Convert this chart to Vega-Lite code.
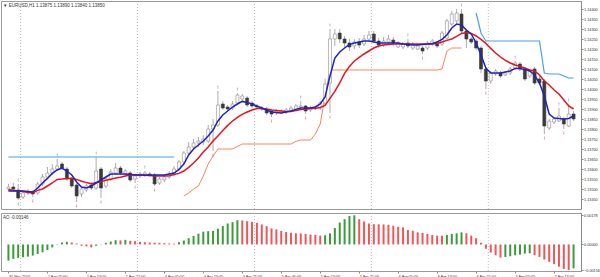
{
  "$schema": "https://vega.github.io/schema/vega-lite/v6.json",
  "padding": 0,
  "background": "white",
  "spacing": 2,
  "config": {
    "view": {"stroke": "#9a9a9a", "strokeWidth": 1},
    "font": "Liberation Sans"
  },
  "datasets": {
    "seps": [{"s": 2.5}, {"s": 26.5}, {"s": 50.5}, {"s": 74.5}, {"s": 98.5}],
    "bars": [
{"i":0,"o":1.13500,"h":1.13525,"l":1.13490,"c":1.13510,"b":1.13490,"r":1.13498,"ao":-0.00098,"d":"g","res":1.13660},
{"i":1,"o":1.13510,"h":1.13530,"l":1.13485,"c":1.13500,"b":1.13490,"r":1.13494,"ao":-0.00088,"d":"g","res":1.13660},
{"i":2,"o":1.13495,"h":1.13525,"l":1.13445,"c":1.13455,"b":1.13490,"r":1.13490,"ao":-0.00082,"d":"g","res":1.13660,"fu":1,"fd":1},
{"i":3,"o":1.13460,"h":1.13490,"l":1.13450,"c":1.13480,"b":1.13490,"r":1.13487,"ao":-0.00078,"d":"g","res":1.13660},
{"i":4,"o":1.13480,"h":1.13500,"l":1.13470,"c":1.13485,"b":1.13488,"r":1.13483,"ao":-0.00074,"d":"g","res":1.13660},
{"i":5,"o":1.13485,"h":1.13495,"l":1.13460,"c":1.13475,"b":1.13485,"r":1.13481,"ao":-0.00068,"d":"g","res":1.13660,"fd":1},
{"i":6,"o":1.13480,"h":1.13535,"l":1.13470,"c":1.13525,"b":1.13505,"r":1.13493,"ao":-0.00058,"d":"g","res":1.13660},
{"i":7,"o":1.13525,"h":1.13575,"l":1.13515,"c":1.13560,"b":1.13530,"r":1.13500,"ao":-0.00048,"d":"g","res":1.13660},
{"i":8,"o":1.13560,"h":1.13610,"l":1.13550,"c":1.13580,"b":1.13553,"r":1.13515,"ao":-0.00034,"d":"g","res":1.13660},
{"i":9,"o":1.13580,"h":1.13625,"l":1.13570,"c":1.13600,"b":1.13578,"r":1.13530,"ao":-0.00018,"d":"g","res":1.13660},
{"i":10,"o":1.13600,"h":1.13650,"l":1.13590,"c":1.13615,"b":1.13595,"r":1.13548,"ao":0.00002,"d":"g","res":1.13660,"fu":1},
{"i":11,"o":1.13625,"h":1.13635,"l":1.13595,"c":1.13605,"b":1.13605,"r":1.13550,"ao":0.00012,"d":"g","res":1.13660},
{"i":12,"o":1.13600,"h":1.13610,"l":1.13540,"c":1.13550,"b":1.13590,"r":1.13553,"ao":0.00016,"d":"g","res":1.13660},
{"i":13,"o":1.13550,"h":1.13560,"l":1.13505,"c":1.13515,"b":1.13570,"r":1.13554,"ao":0.00012,"d":"r","res":1.13660},
{"i":14,"o":1.13520,"h":1.13530,"l":1.13435,"c":1.13465,"b":1.13535,"r":1.13548,"ao":0.00006,"d":"r","res":1.13660,"fd":1},
{"i":15,"o":1.13475,"h":1.13510,"l":1.13460,"c":1.13500,"b":1.13510,"r":1.13539,"ao":-0.00008,"d":"r","res":1.13660},
{"i":16,"o":1.13495,"h":1.13525,"l":1.13485,"c":1.13515,"b":1.13505,"r":1.13532,"ao":-0.00012,"d":"r","res":1.13660},
{"i":17,"o":1.13520,"h":1.13535,"l":1.13495,"c":1.13505,"b":1.13515,"r":1.13526,"ao":-0.00018,"d":"r","res":1.13660},
{"i":18,"o":1.13505,"h":1.13660,"l":1.13495,"c":1.13590,"b":1.13530,"r":1.13532,"ao":-0.00008,"d":"g","res":1.13660,"fu":1},
{"i":19,"o":1.13600,"h":1.13610,"l":1.13455,"c":1.13505,"b":1.13545,"r":1.13537,"ao":0.00002,"d":"g","res":1.13660,"fd":1},
{"i":20,"o":1.13515,"h":1.13560,"l":1.13505,"c":1.13550,"b":1.13560,"r":1.13544,"ao":0.00010,"d":"g","res":1.13660},
{"i":21,"o":1.13550,"h":1.13600,"l":1.13540,"c":1.13585,"b":1.13575,"r":1.13549,"ao":0.00018,"d":"g","res":1.13660},
{"i":22,"o":1.13580,"h":1.13630,"l":1.13570,"c":1.13605,"b":1.13575,"r":1.13555,"ao":0.00026,"d":"g","res":1.13660},
{"i":23,"o":1.13605,"h":1.13615,"l":1.13570,"c":1.13580,"b":1.13575,"r":1.13559,"ao":0.00025,"d":"r","res":1.13660},
{"i":24,"o":1.13575,"h":1.13600,"l":1.13565,"c":1.13590,"b":1.13575,"r":1.13565,"ao":0.00028,"d":"g","res":1.13660},
{"i":25,"o":1.13580,"h":1.13590,"l":1.13535,"c":1.13545,"b":1.13573,"r":1.13570,"ao":0.00022,"d":"r","res":1.13660},
{"i":26,"o":1.13550,"h":1.13575,"l":1.13530,"c":1.13565,"b":1.13570,"r":1.13570,"ao":0.00020,"d":"r","res":1.13660,"fd":1},
{"i":27,"o":1.13565,"h":1.13585,"l":1.13555,"c":1.13575,"b":1.13570,"r":1.13570,"ao":0.00016,"d":"r","res":1.13660},
{"i":28,"o":1.13570,"h":1.13590,"l":1.13560,"c":1.13580,"b":1.13570,"r":1.13569,"ao":0.00014,"d":"r","res":1.13660,"fu":1},
{"i":29,"o":1.13575,"h":1.13585,"l":1.13560,"c":1.13570,"b":1.13570,"r":1.13567,"ao":0.00012,"d":"r","res":1.13660},
{"i":30,"o":1.13570,"h":1.13580,"l":1.13515,"c":1.13525,"b":1.13570,"r":1.13565,"ao":0.00011,"d":"r","res":1.13660,"fd":1},
{"i":31,"o":1.13530,"h":1.13560,"l":1.13520,"c":1.13550,"b":1.13570,"r":1.13565,"ao":0.00010,"d":"r","res":1.13660},
{"i":32,"o":1.13545,"h":1.13570,"l":1.13535,"c":1.13560,"b":1.13570,"r":1.13565,"ao":0.00008,"d":"r","res":1.13660},
{"i":33,"o":1.13560,"h":1.13590,"l":1.13550,"c":1.13575,"b":1.13575,"r":1.13566,"ao":0.00006,"d":"r","res":1.13660},
{"i":34,"o":1.13575,"h":1.13615,"l":1.13565,"c":1.13600,"b":1.13580,"r":1.13572,"ao":0.00005,"d":"r","res":1.13660},
{"i":35,"o":1.13600,"h":1.13645,"l":1.13590,"c":1.13635,"b":1.13598,"r":1.13578,"ao":0.00014,"d":"g"},
{"i":36,"o":1.13635,"h":1.13690,"l":1.13625,"c":1.13680,"b":1.13625,"r":1.13590,"ao":0.00024,"d":"g","sup":1.13465},
{"i":37,"o":1.13680,"h":1.13735,"l":1.13670,"c":1.13710,"b":1.13670,"r":1.13608,"ao":0.00038,"d":"g","sup":1.13480},
{"i":38,"o":1.13710,"h":1.13750,"l":1.13700,"c":1.13730,"b":1.13700,"r":1.13630,"ao":0.00052,"d":"g","sup":1.13500},
{"i":39,"o":1.13730,"h":1.13760,"l":1.13710,"c":1.13740,"b":1.13720,"r":1.13655,"ao":0.00066,"d":"g","sup":1.13515},
{"i":40,"o":1.13735,"h":1.13770,"l":1.13720,"c":1.13750,"b":1.13740,"r":1.13685,"ao":0.00078,"d":"g","sup":1.13565},
{"i":41,"o":1.13740,"h":1.13820,"l":1.13730,"c":1.13800,"b":1.13765,"r":1.13710,"ao":0.00081,"d":"g","sup":1.13625},
{"i":42,"o":1.13800,"h":1.13850,"l":1.13690,"c":1.13820,"b":1.13795,"r":1.13740,"ao":0.00082,"d":"g","sup":1.13665,"fd":1},
{"i":43,"o":1.13820,"h":1.13990,"l":1.13810,"c":1.13920,"b":1.13840,"r":1.13765,"ao":0.00096,"d":"g","sup":1.13700,"fu":1},
{"i":44,"o":1.13925,"h":1.13940,"l":1.13895,"c":1.13905,"b":1.13870,"r":1.13793,"ao":0.00112,"d":"g","sup":1.13700},
{"i":45,"o":1.13910,"h":1.13920,"l":1.13890,"c":1.13900,"b":1.13890,"r":1.13818,"ao":0.00128,"d":"g","sup":1.13700},
{"i":46,"o":1.13905,"h":1.13940,"l":1.13895,"c":1.13925,"b":1.13910,"r":1.13840,"ao":0.00136,"d":"g","sup":1.13700},
{"i":47,"o":1.13930,"h":1.13980,"l":1.13920,"c":1.13970,"b":1.13925,"r":1.13858,"ao":0.00148,"d":"g","sup":1.13713,"fu":1},
{"i":48,"o":1.13950,"h":1.13975,"l":1.13940,"c":1.13965,"b":1.13938,"r":1.13873,"ao":0.00146,"d":"r","sup":1.13725},
{"i":49,"o":1.13955,"h":1.13965,"l":1.13910,"c":1.13920,"b":1.13933,"r":1.13885,"ao":0.00142,"d":"r","sup":1.13725},
{"i":50,"o":1.13930,"h":1.13940,"l":1.13905,"c":1.13915,"b":1.13925,"r":1.13895,"ao":0.00138,"d":"r","sup":1.13725},
{"i":51,"o":1.13915,"h":1.13925,"l":1.13900,"c":1.13910,"b":1.13915,"r":1.13902,"ao":0.00132,"d":"r","sup":1.13725},
{"i":52,"o":1.13905,"h":1.13915,"l":1.13890,"c":1.13900,"b":1.13905,"r":1.13903,"ao":0.00122,"d":"r","sup":1.13725},
{"i":53,"o":1.13900,"h":1.13910,"l":1.13870,"c":1.13880,"b":1.13895,"r":1.13900,"ao":0.00112,"d":"r","sup":1.13725},
{"i":54,"o":1.13890,"h":1.13900,"l":1.13860,"c":1.13875,"b":1.13885,"r":1.13895,"ao":0.00098,"d":"r","sup":1.13725,"fd":1},
{"i":55,"o":1.13880,"h":1.13900,"l":1.13870,"c":1.13890,"b":1.13883,"r":1.13893,"ao":0.00092,"d":"r","sup":1.13725},
{"i":56,"o":1.13880,"h":1.13900,"l":1.13875,"c":1.13890,"b":1.13880,"r":1.13890,"ao":0.00082,"d":"r","sup":1.13725},
{"i":57,"o":1.13885,"h":1.13905,"l":1.13875,"c":1.13895,"b":1.13885,"r":1.13887,"ao":0.00076,"d":"r","sup":1.13725},
{"i":58,"o":1.13895,"h":1.13915,"l":1.13890,"c":1.13905,"b":1.13890,"r":1.13888,"ao":0.00072,"d":"r","sup":1.13725},
{"i":59,"o":1.13900,"h":1.13925,"l":1.13895,"c":1.13915,"b":1.13898,"r":1.13893,"ao":0.00068,"d":"r","sup":1.13738},
{"i":60,"o":1.13910,"h":1.13940,"l":1.13900,"c":1.13915,"b":1.13905,"r":1.13897,"ao":0.00067,"d":"r","sup":1.13745,"fu":1},
{"i":61,"o":1.13915,"h":1.13920,"l":1.13875,"c":1.13890,"b":1.13905,"r":1.13899,"ao":0.00064,"d":"r","sup":1.13745,"fd":1},
{"i":62,"o":1.13895,"h":1.13915,"l":1.13885,"c":1.13905,"b":1.13905,"r":1.13902,"ao":0.00060,"d":"r","sup":1.13745},
{"i":63,"o":1.13900,"h":1.13915,"l":1.13895,"c":1.13905,"b":1.13910,"r":1.13904,"ao":0.00058,"d":"r","sup":1.13775},
{"i":64,"o":1.13905,"h":1.13940,"l":1.13895,"c":1.13930,"b":1.13925,"r":1.13908,"ao":0.00054,"d":"r","sup":1.13825},
{"i":65,"o":1.13930,"h":1.14050,"l":1.13920,"c":1.14025,"b":1.13960,"r":1.13918,"ao":0.00056,"d":"g","sup":1.13965},
{"i":66,"o":1.14030,"h":1.14300,"l":1.13880,"c":1.14250,"b":1.14065,"r":1.13953,"ao":0.00068,"d":"g","sup":1.14095,"fu":1,"fd":1},
{"i":67,"o":1.14250,"h":1.14300,"l":1.14215,"c":1.14275,"b":1.14155,"r":1.13988,"ao":0.00100,"d":"g","sup":1.14095},
{"i":68,"o":1.14280,"h":1.14300,"l":1.14230,"c":1.14250,"b":1.14185,"r":1.14030,"ao":0.00134,"d":"g","sup":1.14095},
{"i":69,"o":1.14250,"h":1.14265,"l":1.14210,"c":1.14230,"b":1.14205,"r":1.14078,"ao":0.00154,"d":"g","sup":1.14095},
{"i":70,"o":1.14230,"h":1.14250,"l":1.14190,"c":1.14210,"b":1.14223,"r":1.14113,"ao":0.00174,"d":"g","sup":1.14095},
{"i":71,"o":1.14215,"h":1.14250,"l":1.14200,"c":1.14235,"b":1.14230,"r":1.14140,"ao":0.00178,"d":"g","sup":1.14095},
{"i":72,"o":1.14235,"h":1.14255,"l":1.14205,"c":1.14220,"b":1.14235,"r":1.14158,"ao":0.00154,"d":"r","sup":1.14095},
{"i":73,"o":1.14225,"h":1.14270,"l":1.14215,"c":1.14250,"b":1.14240,"r":1.14175,"ao":0.00140,"d":"r","sup":1.14095},
{"i":74,"o":1.14250,"h":1.14290,"l":1.14240,"c":1.14270,"b":1.14240,"r":1.14190,"ao":0.00128,"d":"r","sup":1.14095},
{"i":75,"o":1.14275,"h":1.14290,"l":1.14230,"c":1.14240,"b":1.14235,"r":1.14205,"ao":0.00124,"d":"r","sup":1.14095},
{"i":76,"o":1.14240,"h":1.14255,"l":1.14205,"c":1.14220,"b":1.14230,"r":1.14215,"ao":0.00123,"d":"r","sup":1.14095},
{"i":77,"o":1.14220,"h":1.14260,"l":1.14210,"c":1.14240,"b":1.14230,"r":1.14220,"ao":0.00122,"d":"r","sup":1.14095},
{"i":78,"o":1.14235,"h":1.14270,"l":1.14225,"c":1.14250,"b":1.14230,"r":1.14223,"ao":0.00120,"d":"r","sup":1.14095},
{"i":79,"o":1.14245,"h":1.14260,"l":1.14215,"c":1.14230,"b":1.14230,"r":1.14225,"ao":0.00114,"d":"r","sup":1.14095},
{"i":80,"o":1.14210,"h":1.14240,"l":1.14205,"c":1.14230,"b":1.14230,"r":1.14225,"ao":0.00108,"d":"r","sup":1.14095},
{"i":81,"o":1.14210,"h":1.14235,"l":1.14200,"c":1.14225,"b":1.14225,"r":1.14225,"ao":0.00104,"d":"r","sup":1.14095},
{"i":82,"o":1.14230,"h":1.14250,"l":1.14205,"c":1.14215,"b":1.14223,"r":1.14225,"ao":0.00088,"d":"r","sup":1.14095,"fu":1},
{"i":83,"o":1.14205,"h":1.14235,"l":1.14195,"c":1.14225,"b":1.14220,"r":1.14225,"ao":0.00084,"d":"r","sup":1.14095},
{"i":84,"o":1.14200,"h":1.14225,"l":1.14195,"c":1.14215,"b":1.14220,"r":1.14225,"ao":0.00074,"d":"r","sup":1.14095},
{"i":85,"o":1.14205,"h":1.14215,"l":1.14175,"c":1.14190,"b":1.14223,"r":1.14225,"ao":0.00070,"d":"r","sup":1.14095,"fd":1},
{"i":86,"o":1.14205,"h":1.14240,"l":1.14195,"c":1.14230,"b":1.14225,"r":1.14225,"ao":0.00064,"d":"r","sup":1.14095},
{"i":87,"o":1.14225,"h":1.14250,"l":1.14215,"c":1.14240,"b":1.14228,"r":1.14225,"ao":0.00058,"d":"r","sup":1.14095},
{"i":88,"o":1.14230,"h":1.14240,"l":1.14205,"c":1.14215,"b":1.14235,"r":1.14228,"ao":0.00054,"d":"r","sup":1.14095},
{"i":89,"o":1.14225,"h":1.14290,"l":1.14215,"c":1.14280,"b":1.14248,"r":1.14235,"ao":0.00053,"d":"r","sup":1.14100},
{"i":90,"o":1.14255,"h":1.14350,"l":1.14245,"c":1.14340,"b":1.14270,"r":1.14243,"ao":0.00058,"d":"g","sup":1.14190},
{"i":91,"o":1.14325,"h":1.14390,"l":1.14315,"c":1.14375,"b":1.14305,"r":1.14250,"ao":0.00064,"d":"g","sup":1.14205},
{"i":92,"o":1.14340,"h":1.14400,"l":1.14330,"c":1.14380,"b":1.14325,"r":1.14263,"ao":0.00068,"d":"g","sup":1.14205},
{"i":93,"o":1.14375,"h":1.14400,"l":1.14280,"c":1.14290,"b":1.14320,"r":1.14278,"ao":0.00074,"d":"g","sup":1.14205,"fu":1},
{"i":94,"o":1.14290,"h":1.14300,"l":1.14205,"c":1.14250,"b":1.14295,"r":1.14283,"ao":0.00068,"d":"r"},
{"i":95,"o":1.14250,"h":1.14260,"l":1.14225,"c":1.14235,"b":1.14275,"r":1.14278,"ao":0.00054,"d":"r"},
{"i":96,"o":1.14240,"h":1.14250,"l":1.14195,"c":1.14205,"b":1.14230,"r":1.14265,"ao":0.00038,"d":"r","res":1.14380},
{"i":97,"o":1.14205,"h":1.14215,"l":1.14080,"c":1.14100,"b":1.14170,"r":1.14248,"ao":0.00010,"d":"r","res":1.14280},
{"i":98,"o":1.14100,"h":1.14110,"l":1.14000,"c":1.14040,"b":1.14105,"r":1.14228,"ao":-0.00026,"d":"r","res":1.14240,"fd":1},
{"i":99,"o":1.14040,"h":1.14090,"l":1.14025,"c":1.14080,"b":1.14080,"r":1.14203,"ao":-0.00050,"d":"r","res":1.14240},
{"i":100,"o":1.14075,"h":1.14100,"l":1.14065,"c":1.14090,"b":1.14080,"r":1.14180,"ao":-0.00066,"d":"r","res":1.14240},
{"i":101,"o":1.14080,"h":1.14090,"l":1.14055,"c":1.14065,"b":1.14080,"r":1.14160,"ao":-0.00080,"d":"r","res":1.14240},
{"i":102,"o":1.14070,"h":1.14090,"l":1.14065,"c":1.14080,"b":1.14085,"r":1.14143,"ao":-0.00076,"d":"g","res":1.14240},
{"i":103,"o":1.14080,"h":1.14110,"l":1.14070,"c":1.14100,"b":1.14090,"r":1.14130,"ao":-0.00072,"d":"g","res":1.14240},
{"i":104,"o":1.14105,"h":1.14140,"l":1.14095,"c":1.14130,"b":1.14103,"r":1.14120,"ao":-0.00066,"d":"g","res":1.14240,"fu":1},
{"i":105,"o":1.14125,"h":1.14135,"l":1.14090,"c":1.14100,"b":1.14103,"r":1.14113,"ao":-0.00062,"d":"g","res":1.14240},
{"i":106,"o":1.14100,"h":1.14110,"l":1.14040,"c":1.14050,"b":1.14098,"r":1.14105,"ao":-0.00056,"d":"g","res":1.14240},
{"i":107,"o":1.14065,"h":1.14100,"l":1.14055,"c":1.14090,"b":1.14090,"r":1.14095,"ao":-0.00054,"d":"g","res":1.14240},
{"i":108,"o":1.14100,"h":1.14110,"l":1.14020,"c":1.14030,"b":1.14070,"r":1.14090,"ao":-0.00066,"d":"r","res":1.14240},
{"i":109,"o":1.14050,"h":1.14065,"l":1.14020,"c":1.14030,"b":1.14030,"r":1.14070,"ao":-0.00076,"d":"r","res":1.14240},
{"i":110,"o":1.14040,"h":1.14050,"l":1.13775,"c":1.13815,"b":1.13965,"r":1.14040,"ao":-0.00092,"d":"r","res":1.14080,"fd":1},
{"i":111,"o":1.13805,"h":1.13850,"l":1.13795,"c":1.13840,"b":1.13875,"r":1.14020,"ao":-0.00106,"d":"r","res":1.14075},
{"i":112,"o":1.13835,"h":1.13860,"l":1.13825,"c":1.13850,"b":1.13855,"r":1.13995,"ao":-0.00120,"d":"r","res":1.14075},
{"i":113,"o":1.13840,"h":1.13905,"l":1.13835,"c":1.13865,"b":1.13853,"r":1.13975,"ao":-0.00136,"d":"r","res":1.14075,"fu":1},
{"i":114,"o":1.13850,"h":1.13860,"l":1.13800,"c":1.13825,"b":1.13850,"r":1.13945,"ao":-0.00150,"d":"r","res":1.14065,"fd":1},
{"i":115,"o":1.13815,"h":1.13925,"l":1.13810,"c":1.13875,"b":1.13853,"r":1.13915,"ao":-0.00156,"d":"r","res":1.14055,"fu":1},
{"i":116,"o":1.13875,"h":1.13890,"l":1.13840,"c":1.13850,"b":1.13865,"r":1.13900,"ao":-0.00146,"d":"g","res":1.14055}
    ]
  },
  "vconcat": [
    {
      "width": 580,
      "height": 208,
      "title": {"text": "▼ EURUSD,H1  1.13875 1.13890 1.13840 1.13850", "anchor": "start", "frame": "group", "fontSize": 4.5, "fontWeight": "normal", "color": "#333333", "offset": -7, "dx": 2},
      "data": {"name": "bars"},
      "encoding": {
        "x": {"field": "i", "type": "quantitative", "title": null, "scale": {"domain": [-0.5, 116.5], "nice": false, "zero": false}, "axis": null},
        "y": {"type": "quantitative", "title": null, "scale": {"domain": [1.134, 1.1444], "nice": false, "zero": false}, "axis": {"orient": "right", "values": [1.1345, 1.135, 1.1355, 1.136, 1.1365, 1.137, 1.1375, 1.138, 1.1385, 1.139, 1.1395, 1.14, 1.1405, 1.141, 1.1415, 1.142, 1.1425, 1.143, 1.1435, 1.144], "format": ".5f", "title": null, "labelFontSize": 3.8, "tickSize": 2, "labelPadding": 0.5, "domainColor": "#888888", "tickColor": "#888888", "labelColor": "#333333", "grid": false, "labelOverlap": false, "labelBound": false, "labelFlush": false}}
      },
      "layer": [
        {
          "data": {"name": "seps"},
          "mark": {"type": "rule", "color": "#aaaaaa", "strokeWidth": 0.8, "strokeDash": [1, 2]},
          "encoding": {
            "x": {"field": "s", "type": "quantitative", "title": null},
            "y": null
          }
        },
        {
          "transform": [{"filter": "isValid(datum.res) && datum.i < 60"}],
          "mark": {"type": "line", "color": "#4a9fe8", "strokeWidth": 1.2},
          "encoding": {"y": {"field": "res", "type": "quantitative", "title": null}}
        },
        {
          "transform": [{"filter": "isValid(datum.res) && datum.i > 60"}],
          "mark": {"type": "line", "color": "#4a9fe8", "strokeWidth": 1.2},
          "encoding": {"y": {"field": "res", "type": "quantitative", "title": null}}
        },
        {
          "transform": [{"filter": "isValid(datum.sup)"}],
          "mark": {"type": "line", "color": "#f4875f", "strokeWidth": 1},
          "encoding": {"y": {"field": "sup", "type": "quantitative", "title": null}}
        },
        {
          "mark": {"type": "rule", "color": "#8a8a8a", "strokeWidth": 0.7},
          "encoding": {
            "y": {"field": "l", "type": "quantitative", "title": null},
            "y2": {"field": "h"}
          }
        },
        {
          "mark": {"type": "bar", "orient": "vertical", "size": 3, "strokeWidth": 0.6},
          "encoding": {
            "y": {"field": "o", "type": "quantitative", "title": null},
            "y2": {"field": "c"},
            "fill": {"condition": {"test": "datum.c >= datum.o", "value": "#ffffff"}, "value": "#3a3a3a"},
            "stroke": {"condition": {"test": "datum.c >= datum.o", "value": "#8a8a8a"}, "value": "#3a3a3a"}
          }
        },
        {
          "mark": {"type": "line", "color": "#e3161b", "strokeWidth": 1.5},
          "encoding": {"y": {"field": "r", "type": "quantitative", "title": null}}
        },
        {
          "mark": {"type": "line", "color": "#2121c4", "strokeWidth": 1.5},
          "encoding": {"y": {"field": "b", "type": "quantitative", "title": null}}
        },
        {
          "transform": [{"filter": "datum.fu == 1"}],
          "mark": {"type": "point", "shape": "arrow", "filled": true, "size": 12, "color": "#3d86d6", "yOffset": -4},
          "encoding": {"y": {"field": "h", "type": "quantitative", "title": null}}
        },
        {
          "transform": [{"filter": "datum.fd == 1"}],
          "mark": {"type": "point", "shape": "arrow", "angle": 180, "filled": true, "size": 12, "color": "#e03434", "yOffset": 4},
          "encoding": {"y": {"field": "l", "type": "quantitative", "title": null}}
        }
      ]
    },
    {
      "width": 580,
      "height": 58,
      "title": {"text": "AO -0.00146", "anchor": "start", "frame": "group", "fontSize": 4.5, "fontWeight": "normal", "color": "#333333", "offset": -7, "dx": 2},
      "data": {"name": "bars"},
      "layer": [
        {
          "data": {"name": "seps"},
          "mark": {"type": "rule", "color": "#aaaaaa", "strokeWidth": 0.8, "strokeDash": [1, 2]},
          "encoding": {
            "x": {"field": "s", "type": "quantitative", "title": null, "scale": {"domain": [-0.5, 116.5], "nice": false, "zero": false}}
          }
        },
        {
          "mark": {"type": "bar", "orient": "vertical", "size": 2},
          "encoding": {
            "x": {"field": "i", "type": "quantitative", "title": null, "axis": {"orient": "bottom", "values": [0, 4, 8, 12, 16, 20, 24, 28, 32, 36, 40, 44, 48, 52, 56, 60, 64, 68, 72, 76, 80, 84, 88, 92, 96, 100, 104, 108, 112, 116], "labelExpr": "['31 Mar 2016','1 Apr 01:00','1 Apr 05:00','1 Apr 09:00','1 Apr 13:00','1 Apr 17:00','1 Apr 21:00','4 Apr 01:00','4 Apr 05:00','4 Apr 09:00','4 Apr 13:00','4 Apr 17:00','4 Apr 21:00','5 Apr 01:00','5 Apr 05:00','5 Apr 09:00','5 Apr 13:00','5 Apr 17:00','5 Apr 21:00','6 Apr 01:00','6 Apr 05:00','6 Apr 09:00','6 Apr 13:00','6 Apr 17:00','6 Apr 21:00','7 Apr 01:00','7 Apr 05:00','7 Apr 09:00','7 Apr 13:00','7 Apr 17:00'][round(datum.value / 4)]", "labelFontSize": 3.8, "labelAlign": "left", "tickSize": 2, "labelPadding": 1, "title": null, "grid": false, "domain": false, "labelOverlap": false, "labelBound": false, "labelFlush": false, "tickColor": "#888888", "labelColor": "#333333"}},
            "y": {"field": "ao", "type": "quantitative", "title": null, "scale": {"domain": [-0.00162, 0.00192], "nice": false, "zero": false}, "axis": {"orient": "right", "values": [0.00178, 0, -0.00156], "format": ".5f", "title": null, "labelFontSize": 3.8, "tickSize": 2, "labelPadding": 0.5, "domainColor": "#888888", "tickColor": "#888888", "labelColor": "#333333", "grid": false, "labelOverlap": false, "labelBound": false, "labelFlush": false}},
            "y2": {"datum": 0},
            "color": {"condition": {"test": "datum.d == 'g'", "value": "#3b9a3b"}, "value": "#ef5656"}
          }
        }
      ]
    }
  ]
}
